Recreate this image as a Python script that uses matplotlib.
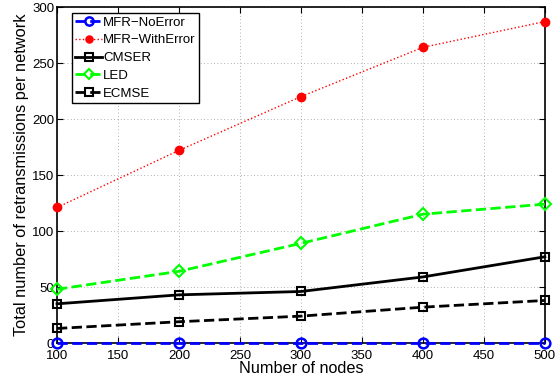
import matplotlib
matplotlib.use("Agg")
import matplotlib.pyplot as plt

plt.rcParams['font.family'] = ['Liberation Sans', 'DejaVu Sans']

nodes = [100, 200, 300, 400, 500]
mfr_no_error = [0, 0, 0, 0, 0]
mfr_with_error = [121, 172, 220, 264, 287]
cmser = [35, 43, 46, 59, 77]
led = [48, 64, 89, 115, 124]
ecmse = [13, 19, 24, 32, 38]

fig = plt.figure(figsize=(5.56, 3.81), dpi=100)
ax = fig.add_axes([0.1025, 0.0997, 0.8775, 0.8819])

ax.plot(nodes, mfr_no_error, color='#0000ff', linestyle='--', linewidth=2,
        marker='o', markersize=7, markerfacecolor='none', markeredgewidth=1.8,
        label='MFR\u2212NoError', clip_on=False, zorder=5)
ax.plot(nodes, mfr_with_error, color='#ff0000', linestyle=':', linewidth=1,
        marker='o', markersize=6, markerfacecolor='#ff0000',
        label='MFR\u2212WithError', clip_on=False, zorder=4)
ax.plot(nodes, cmser, color='black', linestyle='-', linewidth=2,
        marker='s', markersize=6, markerfacecolor='none', markeredgewidth=1.5,
        label='CMSER', clip_on=False, zorder=4)
ax.plot(nodes, led, color='#00ff00', linestyle='--', linewidth=2,
        marker='D', markersize=6, markerfacecolor='none', markeredgewidth=1.5,
        label='LED', clip_on=False, zorder=4)
ax.plot(nodes, ecmse, color='black', linestyle='--', linewidth=2,
        marker='s', markersize=6, markerfacecolor='none', markeredgewidth=1.5,
        label='ECMSE', clip_on=False, zorder=4)

ax.set_xlim(100, 500)
ax.set_ylim(0, 300)
ax.set_xticks([100, 150, 200, 250, 300, 350, 400, 450, 500])
ax.set_yticks([0, 50, 100, 150, 200, 250, 300])
ax.tick_params(axis='both', direction='in', top=True, right=True, labelsize=9.5, length=4)
ax.tick_params(axis='x', pad=5)
ax.tick_params(axis='y', pad=2)
ax.grid(True, linestyle=(0, (1, 3)), color='#999999', linewidth=0.6)
for s in ax.spines.values():
    s.set_linewidth(1.2)

ax.set_xlabel('Number of nodes', fontsize=11.7, labelpad=-1)
ax.set_ylabel('Total number of retransmissions per network', fontsize=11.8, labelpad=2)

leg = ax.legend(loc='upper left', bbox_to_anchor=(0.031, 0.982), fontsize=9.5,
                frameon=True, fancybox=False, edgecolor='black', framealpha=1,
                borderpad=0.25, labelspacing=0.42, handlelength=2.0, handletextpad=0.1,
                borderaxespad=0.0, markerscale=0.85)
leg.get_frame().set_linewidth(1.0)

fig.savefig('out.png', dpi=100)
